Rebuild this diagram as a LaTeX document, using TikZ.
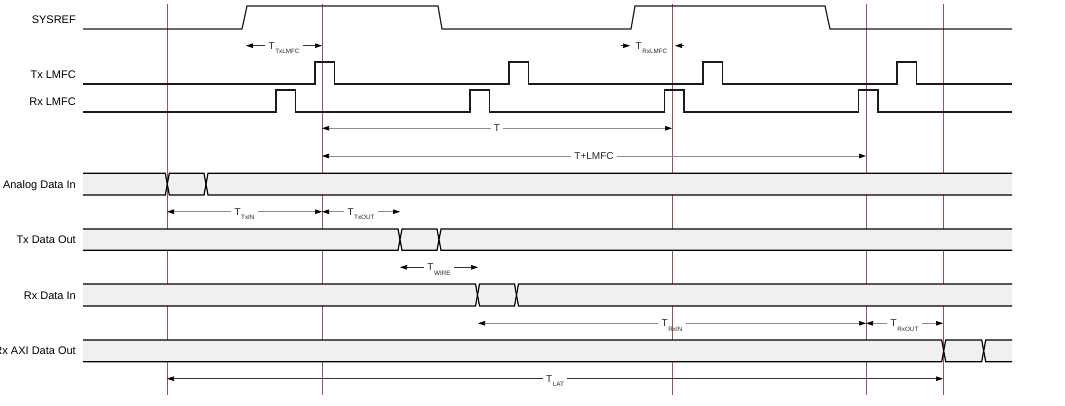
\documentclass[tikz,border=0pt]{standalone}
\usepackage{fontspec}
\setmainfont{Liberation Sans}
\usetikzlibrary{arrows.meta,calc}
\definecolor{marker}{HTML}{A0504E}
\definecolor{busfill}{HTML}{F0F0F0}
\definecolor{dimgrey}{HTML}{8C8C8C}
\definecolor{sig}{HTML}{1A1A1A}

\newcommand{\tlabel}[1]{T\kern0.6pt\raisebox{-4.3pt}{\fontsize{6.3}{7}\selectfont #1}}

% bus: #1 top, #2 middle, #3 bottom, #4 and #5 the two changes
\newcommand{\busline}[5]{%
  \fill[busfill] (83,#1) -- ({#4-2},#1) -- (#4,#2) -- ({#4-2},#3) -- (83,#3) -- cycle;
  \draw[bus] (83,#1) -- ({#4-2},#1) -- (#4,#2) -- ({#4-2},#3) -- (83,#3);
  \filldraw[bus,fill=busfill] (#4,#2) -- ({#4+2},#1) -- ({#5-2},#1) -- (#5,#2) -- ({#5-2},#3) -- ({#4+2},#3) -- cycle;
  \fill[busfill] (1012,#1) -- ({#5+2},#1) -- (#5,#2) -- ({#5+2},#3) -- (1012,#3) -- cycle;
  \draw[bus] (1012,#1) -- ({#5+2},#1) -- (#5,#2) -- ({#5+2},#3) -- (1012,#3);}

\begin{document}
\begin{tikzpicture}[x=1pt,y=-1pt,
    signal/.style={sig,line width=1.2pt,line join=miter},
    bus/.style={black,line width=1.2pt},
    markerline/.style={marker,line width=0.8pt},
    dim/.style={dimgrey,line width=0.7pt,-{Triangle[length=7pt,width=4.5pt,color=black]}},
    dimtext/.style={font=\fontsize{10}{12}\selectfont,text=black!85,inner sep=3pt,anchor=base},
    signame/.style={font=\fontsize{11}{13}\selectfont,anchor=base east,inner sep=0pt}]
  \useasboundingbox (0,0) rectangle (1065,406);

  % reference lines
  \foreach \x in {167,322,672,866,943}
    \draw[markerline] (\x,4) -- (\x,395);

  % signal names
  \node[signame] (n-sysref) at (76,23.3) {SYSREF};
  \node[signame] (n-txlmfc) at (76,78.3) {Tx LMFC};
  \node[signame] (n-rxlmfc) at (76,106) {Rx LMFC};
  \node[signame] (n-adc) at (76,188.3) {Analog Data In};
  \node[signame] (n-txdata) at (76,243.3) {Tx Data Out};
  \node[signame] (n-rxdata) at (76,299) {Rx Data In};
  \node[signame] (n-axi) at (76,354.3) {Rx AXI Data Out};

  % SYSREF and LMFC
  \draw[signal] (83,29) -- (242,29) -- (247,6) -- (438,6) -- (442,29) -- (631,29)
    -- (635,6) -- (825,6) -- (830,29) -- (1012,29);
  \draw[signal] (83,84) foreach \p in {315,509,703,897} {
    -- (\p,84) -- (\p,62) -- ({\p+19.5},62) -- ({\p+19.5},84)} -- (1012,84);
  \draw[signal] (83,112) foreach \p in {276,470,664.5,858.5} {
    -- (\p,112) -- (\p,90) -- ({\p+19.5},90) -- ({\p+19.5},112)} -- (1012,112);

  % timing spans
  \foreach \id/\xa/\xb/\y/\sub/\col in {txlmfc/246/322/45.7/TxLMFC/black!80,
      txin/167/322/211.7/TxIN/dimgrey, txout/322/400/211.7/TxOUT/dimgrey,
      wire/400/478/267.3/WIRE/black!80, rxin/478/866/323.3/RxIN/dimgrey,
      rxout/866/943/323.3/RxOUT/dimgrey, lat/167/943/378.7/LAT/black!80} {
    \coordinate (\id-a) at (\xa,\y);
    \coordinate (\id-b) at (\xb,\y);
    \node[dimtext] (\id) at ($(\id-a)!0.5!(\id-b)+(0,3.4)$) {\tlabel{\sub}};
    \draw[dim,draw=\col] (\id.west |- \id-a) -- (\id-a);
    \draw[dim,draw=\col] (\id.east |- \id-b) -- (\id-b);
  }
  \foreach \id/\xa/\xb/\y/\txt in {per/322/672/128.3/T, perl/322/866/156/T+LMFC} {
    \coordinate (\id-a) at (\xa,\y);
    \coordinate (\id-b) at (\xb,\y);
    \node[dimtext] (\id) at ($(\id-a)!0.5!(\id-b)+(0,3.6)$) {\txt};
    \draw[dim] (\id.west |- \id-a) -- (\id-a);
    \draw[dim] (\id.east |- \id-b) -- (\id-b);
  }

  % T_RxLMFC, arrows from outside
  \coordinate (rxl-a) at (630,45.7);
  \coordinate (rxl-b) at (675,45.7);
  \coordinate (rxl-c) at (621,45.7);
  \coordinate (rxl-d) at (684,45.7);
  \node[dimtext] (rxl) at (651.5,49.1) {\tlabel{RxLMFC}};
  \draw[dim,draw=black!80] (rxl-c) -- (rxl-a);
  \draw[dim,draw=black!80] (rxl-d) -- (rxl-b);

  % data buses
  \busline{173.3}{184.2}{195}{167.3}{206}
  \busline{229}{239.7}{250.3}{400}{439}
  \busline{284}{295}{306}{477.5}{516.5}
  \busline{340}{350.8}{361.7}{943.7}{983.7}
\end{tikzpicture}
\end{document}
